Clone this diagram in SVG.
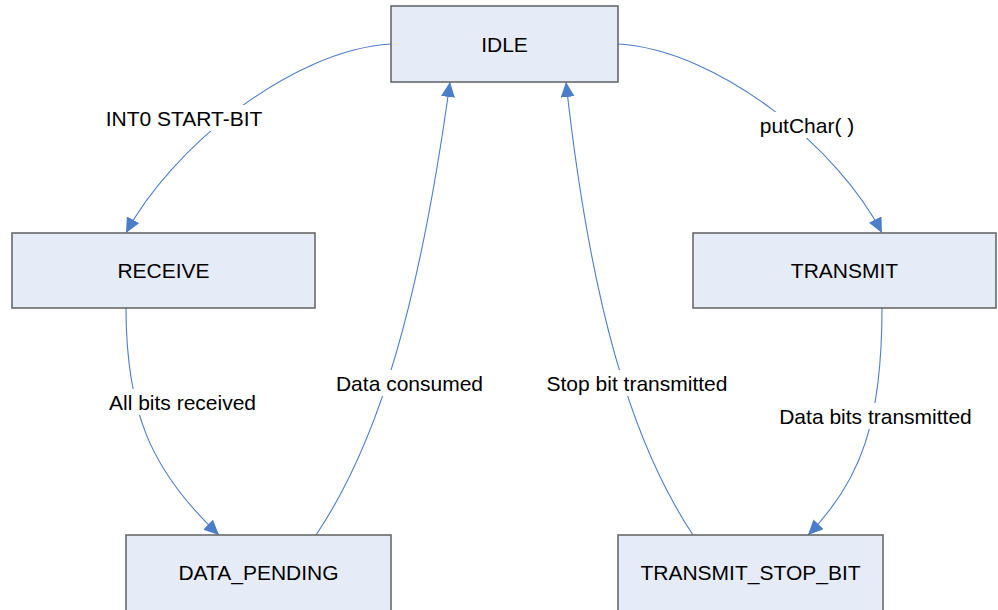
<svg xmlns="http://www.w3.org/2000/svg" width="998" height="610" viewBox="0 0 998 610">
  <style>
    .state rect { fill: #E6ECF7; stroke: #6A6A6A; stroke-width: 1.6; }
    .state text, .label text { font-family: "Liberation Sans", Arial, sans-serif; font-size: 21px; fill: #000; text-anchor: middle; }
    .edge { fill: none; stroke: #4A7EC8; stroke-width: 1.1; marker-end: url(#arrow); }
    .label rect { fill: #fff; }
  </style>
  <defs>
    <marker id="arrow" markerUnits="userSpaceOnUse" markerWidth="16" markerHeight="14" refX="15" refY="7" orient="auto">
      <path d="M0,0 L15,7 L0,14 Z" fill="#4A7EC8"/>
    </marker>
  </defs>

  <!-- transitions -->
  <g id="connectors">
    <path class="edge" d="M391,44 C290,50 170,150 126,233"/>
    <path class="edge" d="M618,44 C720,50 840,150 882,233"/>
    <path class="edge" d="M126,308 C126,410 150,470 219,535"/>
    <path class="edge" d="M316,535 C380,440 420,300 450,82"/>
    <path class="edge" d="M693,535 C630,440 590,300 566,82"/>
    <path class="edge" d="M882,308 C882,420 862,480 808,535"/>
  </g>

  <!-- transition labels -->
  <g class="label" id="labels">
    <rect x="102" y="105" width="164" height="26"/>
    <text x="184" y="125.5">INT0 START-BIT</text>
    <rect x="756" y="112" width="102" height="26"/>
    <text x="807" y="132.5">putChar( )</text>
    <rect x="106" y="389" width="153" height="26"/>
    <text x="182.5" y="409.5">All bits received</text>
    <rect x="334" y="370" width="151" height="26"/>
    <text x="409.5" y="390.5">Data consumed</text>
    <rect x="544" y="370" width="186" height="26"/>
    <text x="637" y="390.5">Stop bit transmitted</text>
    <rect x="777" y="403" width="197" height="26"/>
    <text x="875.5" y="423.5">Data bits transmitted</text>
  </g>

  <!-- states -->
  <g class="state" id="idle">
    <rect x="391" y="6" width="227" height="76"/>
    <text x="504.5" y="51.5">IDLE</text>
  </g>
  <g class="state" id="receive">
    <rect x="12" y="233" width="303" height="75"/>
    <text x="163.5" y="277.5">RECEIVE</text>
  </g>
  <g class="state" id="transmit">
    <rect x="693" y="233" width="303" height="75"/>
    <text x="844.5" y="277.5">TRANSMIT</text>
  </g>
  <g class="state" id="data_pending">
    <rect x="126" y="535" width="265" height="90"/>
    <text x="258.5" y="580">DATA_PENDING</text>
  </g>
  <g class="state" id="transmit_stop_bit">
    <rect x="618" y="535" width="265" height="90"/>
    <text x="750.5" y="580">TRANSMIT_STOP_BIT</text>
  </g>
</svg>
